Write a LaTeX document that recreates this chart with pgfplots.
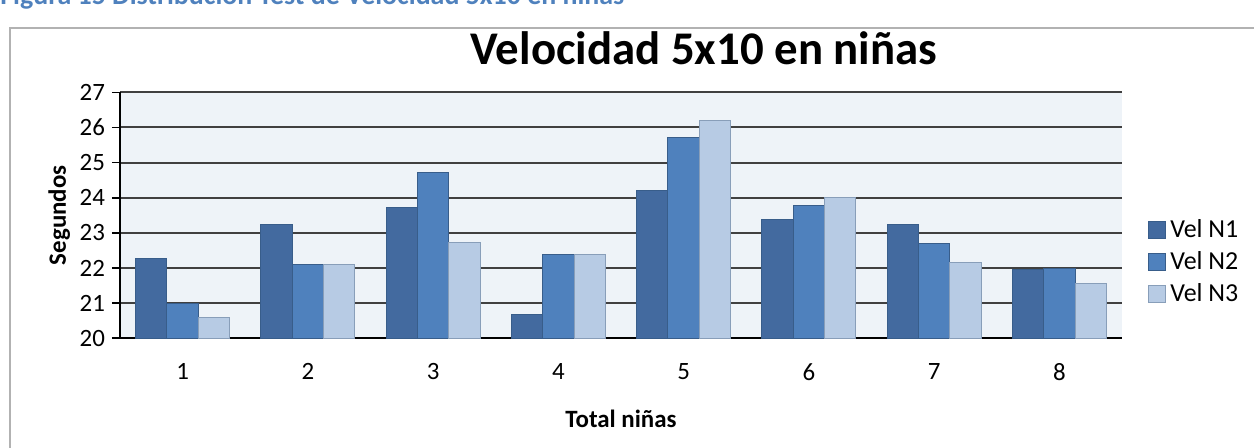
\documentclass[border=0pt]{standalone}
\usepackage{fontspec}
\setmainfont{Carlito}
\usepackage{pgfplots}
\pgfplotsset{compat=1.18}
\definecolor{cA}{HTML}{436A9F}
\definecolor{cB}{HTML}{4F81BD}
\definecolor{cC}{HTML}{B7CBE4}
\definecolor{edge}{HTML}{385D8A}
\definecolor{bgp}{HTML}{EEF3F8}
\definecolor{hdr}{HTML}{4F81BD}
\begin{document}
\begin{tikzpicture}
\useasboundingbox (0,0) rectangle (627bp,224bp);
% outer frame
\draw[gray!60, line width=1bp] (5bp,-5bp) -- (5bp,210bp) -- (640bp,210bp);
% header (cut off at the top edge as in the reference)
\node[anchor=base west, font=\bfseries\fontsize{14}{16}\selectfont, text=hdr, inner sep=0pt] at (0bp,221.6bp) {Figura 15 Distribución Test de Velocidad 5x10 en niñas};
\node[anchor=base, font=\bfseries\fontsize{23.5}{27}\selectfont, inner sep=0pt] at (352bp,191.5bp) {Velocidad 5x10 en niñas};
\begin{axis}[
  at={(60bp,54.85bp)}, anchor=south west,
  scale only axis, width=501bp, height=123bp,
  xmin=0.5, xmax=8.5, ymin=20, ymax=27,
  axis background/.style={fill=bgp},
  axis x line*=bottom, axis y line*=left,
  axis line style={black, line width=0.8bp, -},
  xtick={1,...,8}, ytick={20,...,27},
  major x tick style={draw=none},
  major y tick style={black, line width=0.8bp},
  tick align=outside, major tick length=4bp,
  ymajorgrids, grid style={black!75, line width=1bp},
  /pgf/number format/assume math mode=true,
  ticklabel style={font=\fontsize{12.5}{14}\selectfont},
  xticklabel style={yshift=-5bp},
  xlabel={\bfseries Total niñas},
  ylabel={\bfseries Segundos},
  label style={font=\fontsize{12.5}{14}\selectfont},
  xlabel style={yshift=-8bp},
  ylabel style={yshift=-2bp},
  ybar, bar width=0.25,
  legend style={at={(1.02,0.31)}, anchor=west, draw=none, fill=none,
    font=\fontsize{13}{15}\selectfont, row sep=1.5bp,
    /tikz/every even column/.append style={column sep=0pt}},
  legend cell align=left,
  legend image code/.code={\fill[#1] (0bp,-4.25bp) rectangle (8.5bp,4.25bp);},
]
\addplot[fill=cA, draw=edge, line width=0.5bp, bar shift=-0.25] coordinates {(1,22.28) (2,23.23) (3,23.72) (4,20.68) (5,24.22) (6,23.37) (7,23.23) (8,21.97)};
\addplot[fill=cB, draw=edge, line width=0.5bp, bar shift=0] coordinates {(1,21.0) (2,22.09) (3,24.73) (4,22.39) (5,25.7) (6,23.78) (7,22.69) (8,22.0)};
\addplot[fill=cC, draw=edge!60, line width=0.5bp, bar shift=0.25] coordinates {(1,20.59) (2,22.09) (3,22.72) (4,22.39) (5,26.19) (6,24.02) (7,22.15) (8,21.55)};
\legend{Vel N1, Vel N2, Vel N3}
\end{axis}
\end{tikzpicture}
\end{document}
